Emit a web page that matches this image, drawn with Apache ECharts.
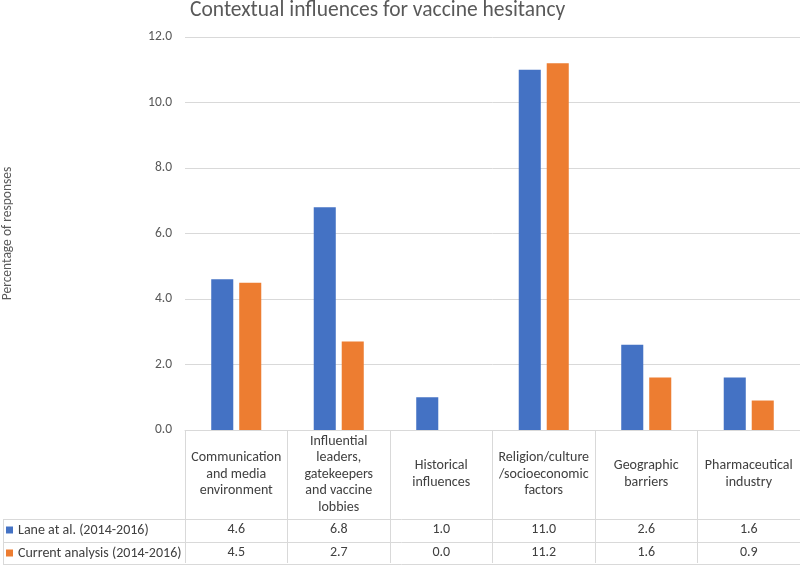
<!DOCTYPE html>
<html>
<head>
<meta charset="utf-8">
<script src="https://cdn.jsdelivr.net/npm/echarts@6/dist/echarts.min.js"></script>
<style>html,body{margin:0;padding:0;background:#fff}#c{width:800px;height:565px}</style>
</head>
<body>
<div id="c"></div>
<script>
const title = 'Contextual influences for vaccine hesitancy';
const yName = 'Percentage of responses';
const categories = [
  'Communication\nand media\nenvironment',
  'Influential\nleaders,\ngatekeepers\nand vaccine\nlobbies',
  'Historical\ninfluences',
  'Religion/culture\n/socioeconomic\nfactors',
  'Geographic\nbarriers',
  'Pharmaceutical\nindustry'
];
const seriesNames = ['Lane at al. (2014-2016)', 'Current analysis (2014-2016)'];
const laneValues = [4.6, 6.8, 1.0, 11.0, 2.6, 1.6];
const currentValues = [4.5, 2.7, 0.0, 11.2, 1.6, 0.9];
const yTicks = [0, 2, 4, 6, 8, 10, 12];

const FONT = 'Carlito, Lato, sans-serif';
const GRID_L = 185, GRID_T = 37, GRID_B = 135;
const LINE = '#d9d9d9';

const chart = echarts.init(document.getElementById('c'), null, {renderer: 'canvas'});

const hLine = (y) => ({type: 'line', shape: {x1: 3, y1: y, x2: 800, y2: y}, style: {stroke: LINE, lineWidth: 1}, silent: true});

chart.setOption({
  animation: false,
  backgroundColor: '#fff',
  textStyle: {fontFamily: FONT},
  title: {
    text: title, left: 190, top: 0, padding: 0,
    textStyle: {fontFamily: FONT, fontSize: 21.5, fontWeight: 'normal', color: '#595959'}
  },
  legend: {
    orient: 'vertical', left: 6, top: 522, padding: 0,
    itemWidth: 7, itemHeight: 7, itemGap: 7,
    icon: 'rect',
    data: seriesNames,
    textStyle: {fontFamily: FONT, fontSize: 14, color: '#404040', lineHeight: 16}
  },
  grid: {left: GRID_L, right: 0, top: GRID_T, bottom: GRID_B, containLabel: false, outerBoundsMode: 'none'},
  xAxis: [
    {
      type: 'category', position: 'bottom', data: categories,
      axisLine: {lineStyle: {color: LINE}},
      axisTick: {show: true, interval: 0, length: 133, lineStyle: {color: LINE}},
      axisLabel: {interval: 0, margin: 44, verticalAlign: 'middle', lineHeight: 16.5,
        fontFamily: FONT, fontSize: 14, color: '#404040'}
    },
    {
      type: 'category', position: 'bottom', data: categories,
      axisLine: {show: false}, axisTick: {show: false},
      axisLabel: {interval: 0, margin: 99, verticalAlign: 'middle',
        fontFamily: FONT, fontSize: 14, color: '#404040',
        formatter: (v, i) => laneValues[i].toFixed(1)}
    },
    {
      type: 'category', position: 'bottom', data: categories,
      axisLine: {show: false}, axisTick: {show: false},
      axisLabel: {interval: 0, margin: 122, verticalAlign: 'middle',
        fontFamily: FONT, fontSize: 14, color: '#404040',
        formatter: (v, i) => currentValues[i].toFixed(1)}
    }
  ],
  yAxis: {
    type: 'value', min: yTicks[0], max: yTicks[yTicks.length - 1], interval: 2,
    name: yName, nameLocation: 'middle', nameGap: 170, nameRotate: 90,
    nameTextStyle: {fontFamily: FONT, fontSize: 13.5, color: '#595959'},
    axisLine: {show: false}, axisTick: {show: false},
    axisLabel: {margin: 13, fontFamily: FONT, fontSize: 13.5, color: '#595959',
      formatter: v => v.toFixed(1)},
    splitLine: {lineStyle: {color: LINE}}
  },
  series: [
    {name: seriesNames[0], type: 'bar', xAxisIndex: 0, data: laneValues,
     barWidth: '21.5%', barGap: '27%', itemStyle: {color: '#4472C4'}},
    {name: seriesNames[1], type: 'bar', xAxisIndex: 0, data: currentValues,
     barWidth: '21.5%', barGap: '27%', itemStyle: {color: '#ED7D31'}}
  ],
  graphic: [
    hLine(519.5), hLine(542.5), hLine(564.5),
    {type: 'line', shape: {x1: 3.5, y1: 519, x2: 3.5, y2: 565}, style: {stroke: LINE, lineWidth: 1}, silent: true}
  ]
});
</script>
</body>
</html>
